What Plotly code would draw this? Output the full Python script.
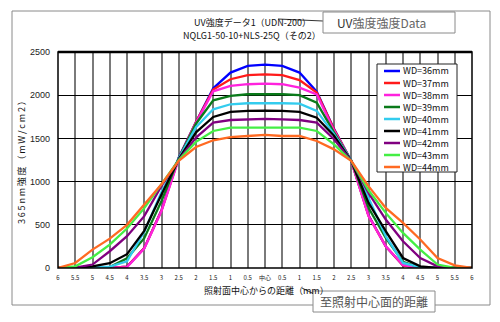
import plotly.graph_objects as go

# ---------------- data ----------------
x_vals = [i * 0.5 for i in range(-12, 13)]
x_tick_text = ["6", "5.5", "5", "4.5", "4", "3.5", "3", "2.5", "2", "1.5", "1", "0.5", "中心",
               "0.5", "1", "1.5", "2", "2.5", "3", "3.5", "4", "4.5", "5", "5.5", "6"]
y_ticks = [0, 500, 1000, 1500, 2000, 2500]

series_names = ["WD=36mm", "WD=37mm", "WD=38mm", "WD=39mm", "WD=40mm",
                "WD=41mm", "WD=42mm", "WD=43mm", "WD=44mm"]
series_colors = ["#0000ff", "#ff1a1a", "#ff22dd", "#0a7a1a", "#33ccee",
                 "#000000", "#800080", "#44ee44", "#ff6a22"]

wd36 = [0, 0, 0, 0, 15, 230, 670, 1280, 1690, 2080, 2262, 2340, 2355,
        2340, 2262, 2040, 1610, 1240, 610, 250, 30, 0, 0, 0, 0]
wd37 = [0, 0, 0, 0, 15, 230, 665, 1270, 1690, 2065, 2185, 2232, 2240,
        2232, 2174, 2030, 1605, 1240, 605, 250, 30, 0, 0, 0, 0]
wd38 = [0, 0, 0, 0, 10, 225, 660, 1260, 1680, 2045, 2108, 2127, 2135,
        2127, 2088, 2010, 1590, 1240, 600, 252, 35, 0, 0, 0, 0]
wd39 = [0, 0, 0, 10, 113, 345, 775, 1270, 1670, 1941, 1992, 2011, 2015,
        2011, 2000, 1914, 1570, 1245, 696, 348, 70, 5, 0, 0, 0]
wd40 = [0, 0, 5, 15, 77, 420, 880, 1270, 1630, 1837, 1895, 1907, 1910,
        1907, 1902, 1818, 1550, 1245, 812, 368, 58, 10, 0, 0, 0]
wd41 = [0, 0, 20, 56, 160, 430, 850, 1260, 1570, 1748, 1806, 1818, 1820,
        1818, 1806, 1740, 1530, 1240, 754, 426, 116, 20, 0, 0, 0]
wd42 = [0, 5, 40, 194, 368, 600, 950, 1250, 1510, 1682, 1713, 1721, 1725,
        1721, 1713, 1682, 1490, 1240, 870, 561, 310, 116, 20, 0, 0]
wd43 = [0, 20, 124, 271, 457, 693, 970, 1250, 1460, 1586, 1624, 1624, 1628,
        1624, 1624, 1586, 1431, 1240, 900, 638, 406, 213, 40, 0, 0]
wd44 = [0, 58, 213, 340, 500, 740, 970, 1240, 1400, 1478, 1516, 1528, 1540,
        1528, 1528, 1470, 1373, 1240, 948, 696, 522, 330, 116, 30, 0]
series_values = [wd36, wd37, wd38, wd39, wd40, wd41, wd42, wd43, wd44]

title_line1 = "UV強度データ1（UDN-200）"
title_line2 = "NQLG1-50-10+NLS-25Q（その2）"
y_title = "365nm強度（mW/cm2）"
x_title = "照射面中心からの距離（mm）"
callout_top = "UV強度強度Data"
callout_bottom = "至照射中心面的距離"

# ---------------- layout helpers ----------------
W, H = 500, 322
PL, PR, PT, PB = 58, 472, 52, 268
FONT = "Noto Sans CJK JP, Arial, sans-serif"


def px(xp):
    return (xp - PL) / (PR - PL)


def py(yp):
    return (PB - yp) / (PB - PT)


fig = go.Figure()
for name, col, vals in zip(series_names, series_colors, series_values):
    fig.add_trace(go.Scatter(x=x_vals, y=vals, mode="lines", name=name,
                             line=dict(color=col, width=2.3), showlegend=False))

shapes = []
annotations = []

# outer frame
shapes.append(dict(type="rect", xref="paper", yref="paper",
                   x0=px(12), x1=px(490), y0=py(305), y1=py(11),
                   line=dict(color="#8a8a8a", width=1), layer="below"))
# plot border
shapes.append(dict(type="rect", xref="paper", yref="paper",
                   x0=0, x1=1, y0=0, y1=1, line=dict(color="black", width=1.5)))
shapes.append(dict(type="line", xref="paper", yref="paper",
                   x0=0, x1=1, y0=1, y1=1, line=dict(color="black", width=2.5)))

# legend box (manual for compact spacing)
LX0, LX1, LY0, LY1 = 377, 457, 64, 172
shapes.append(dict(type="rect", xref="paper", yref="paper",
                   x0=px(LX0), x1=px(LX1), y0=py(LY1), y1=py(LY0),
                   line=dict(color="#222", width=1), fillcolor="white"))
for i, (name, col) in enumerate(zip(series_names, series_colors)):
    yy = 71 + 12 * i
    shapes.append(dict(type="line", xref="paper", yref="paper",
                       x0=px(384), x1=px(400), y0=py(yy), y1=py(yy),
                       line=dict(color=col, width=2.5)))
    annotations.append(dict(xref="paper", yref="paper", x=px(401), y=py(yy),
                            text=name, showarrow=False, xanchor="left", yanchor="middle",
                            font=dict(size=9, color="#111", family=FONT)))

# title
annotations.append(dict(xref="paper", yref="paper", x=px(252), y=py(23), text=title_line1,
                        showarrow=False, xanchor="center", yanchor="middle",
                        font=dict(size=9, color="#111", family=FONT)))
annotations.append(dict(xref="paper", yref="paper", x=px(252), y=py(35), text=title_line2,
                        showarrow=False, xanchor="center", yanchor="middle",
                        font=dict(size=9, color="#111", family=FONT)))
# axis titles (y title letter-spaced like the original)
y_title_spaced = "\u2009".join(list(y_title))
annotations.append(dict(xref="paper", yref="paper", x=px(21), y=py(160), text=y_title_spaced,
                        showarrow=False, textangle=-90, xanchor="center", yanchor="middle",
                        font=dict(size=9, color="#111", family=FONT)))
annotations.append(dict(xref="paper", yref="paper", x=px(266), y=py(290), text=x_title,
                        showarrow=False, xanchor="center", yanchor="middle",
                        font=dict(size=9, color="#111", family=FONT)))

# callout top
shapes.append(dict(type="line", xref="paper", yref="paper",
                   x0=px(278), x1=px(323), y0=py(19), y1=py(21),
                   line=dict(color="#333", width=1)))
shapes.append(dict(type="rect", xref="paper", yref="paper",
                   x0=px(323), x1=px(455), y0=py(33), y1=py(12),
                   line=dict(color="#8a8a8a", width=1), fillcolor="white"))
annotations.append(dict(xref="paper", yref="paper", x=px(335), y=py(22.5),
                        text="<span style='color:#333'>UV</span>" + callout_top[2:],
                        showarrow=False, xanchor="left", yanchor="middle",
                        font=dict(size=12, color="#666", family=FONT)))
# callout bottom
shapes.append(dict(type="line", xref="paper", yref="paper",
                   x0=px(302), x1=px(314), y0=py(288), y1=py(294),
                   line=dict(color="#333", width=1)))
shapes.append(dict(type="rect", xref="paper", yref="paper",
                   x0=px(313), x1=px(435), y0=py(312), y1=py(291),
                   line=dict(color="#8a8a8a", width=1), fillcolor="white"))
annotations.append(dict(xref="paper", yref="paper", x=px(374), y=py(301.5), text=callout_bottom,
                        showarrow=False, xanchor="center", yanchor="middle",
                        font=dict(size=12, color="#555", family=FONT)))

fig.update_layout(
    width=W, height=H,
    margin=dict(l=PL, r=W - PR, t=PT, b=H - PB, pad=0),
    paper_bgcolor="white", plot_bgcolor="white",
    showlegend=False,
    shapes=shapes, annotations=annotations,
    xaxis=dict(range=[-6, 6], tickmode="array", tickvals=x_vals, ticktext=x_tick_text,
               showgrid=True, gridcolor="#7a7a7a", gridwidth=1.5, zeroline=False,
               ticks="", tickfont=dict(size=6, color="#222", family=FONT),
               ticklabelstandoff=5, fixedrange=True),
    yaxis=dict(range=[0, 2500], tickmode="array", tickvals=y_ticks,
               showgrid=True, gridcolor="#000000", gridwidth=1, zeroline=False,
               ticks="", tickfont=dict(size=9, color="#222", family="Arial, sans-serif"),
               ticklabelstandoff=7, fixedrange=True),
)

fig.write_html("out.html")
